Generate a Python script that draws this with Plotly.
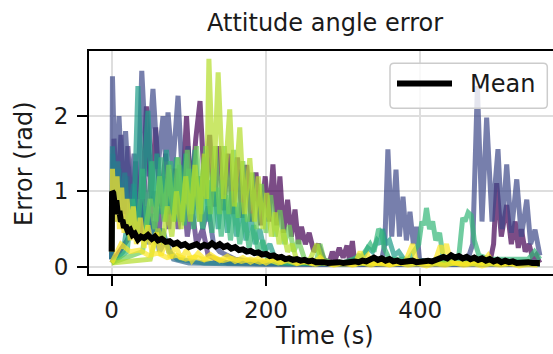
import plotly.graph_objects as go

# ---------------- data: attitude angle error per run (time s, error rad) ----------------
t_run0 = [0, 10, 20, 30, 38, 45, 51, 57, 63, 70, 76, 83, 90, 97, 103, 109, 114.5, 121, 127, 133,
          139, 145, 151, 157, 163, 169, 175, 181, 187, 193, 199, 204, 209, 214, 218, 223, 228, 233,
          237.6, 242, 246, 251, 256, 262, 268, 275, 282, 286, 290, 295, 300, 305, 308, 312, 315,
          330, 400, 470, 490, 495, 499, 505, 512, 518, 523, 527, 531, 536, 541, 546, 550, 555]
e_run0 = [0.05, 0.2, 0.35, 0.6, 0.4, 2.13, 0.9, 1.85, 0.8, 1.5, 0.7, 1.3, 0.6, 2.0, 0.9, 1.7, 2.2,
          0.9, 1.75, 0.8, 1.6, 0.75, 1.5, 0.7, 1.45, 0.65, 1.35, 0.6, 1.25, 0.55, 1.2, 0.6, 1.36,
          0.55, 1.2, 0.45, 0.89, 0.4, 0.76, 0.3, 0.53, 0.3, 0.45, 0.2, 0.3, 0.1, 0.05, 0.2, 0.1,
          0.25, 0.12, 0.28, 0.1, 0.34, 0.05, 0.03, 0.03, 0.04, 0.05, 0.3, 1.11, 0.4, 0.82, 0.3,
          0.6, 0.25, 0.5, 0.2, 0.3, 0.1, 0.15, 0.05]

t_run1 = [0, 3, 7, 12, 16, 21, 26, 31, 36, 42, 48, 55, 61, 68, 74, 80, 86, 92, 98, 104, 110, 118,
          125, 135, 150, 200, 300, 400, 555]
e_run1 = [0.1, 1.7, 0.8, 1.75, 0.7, 1.6, 0.6, 1.4, 0.5, 1.2, 0.5, 1.0, 0.4, 1.2, 0.5, 1.3, 0.5,
          1.1, 0.4, 0.8, 0.3, 0.5, 0.15, 0.1, 0.05, 0.04, 0.03, 0.04, 0.03]

t_run2 = [0, 1, 5, 9.5, 14, 18, 23, 29, 34, 39, 46, 53.5, 60, 66.5, 70, 73, 79, 86, 92, 99, 105,
          112, 118, 125, 132, 140, 160, 200, 300, 350, 354, 358, 363, 368.5, 373, 377.6, 382,
          386.6, 391, 395, 399, 410, 460, 468, 474, 480, 486, 493, 500.7, 506, 512, 518, 525,
          531, 538, 543, 548.7, 552, 555]
e_run2 = [0.1, 2.53, 0.9, 2.0, 1.0, 1.8, 0.9, 1.5, 0.9, 2.6, 1.2, 2.36, 1.3, 2.0, 1.4, 2.05, 1.3,
          2.27, 1.1, 1.6, 0.7, 1.2, 0.5, 0.8, 0.3, 0.2, 0.1, 0.05, 0.04, 0.1, 0.3, 1.56, 0.4, 1.29,
          0.4, 0.93, 0.35, 0.73, 0.3, 0.53, 0.1, 0.04, 0.05, 0.3, 2.4, 0.6, 1.98, 0.6, 1.56, 0.5,
          1.36, 0.45, 1.16, 0.4, 0.89, 0.3, 0.49, 0.25, 0.15]

t_run3 = [0, 2, 6, 10, 15, 20, 25, 30, 36, 42, 48, 55, 62, 70, 80, 100, 200, 555]
e_run3 = [0.1, 1.5, 0.6, 1.3, 0.5, 1.2, 0.4, 1.0, 0.35, 0.8, 0.3, 0.6, 0.2, 0.35, 0.1, 0.05,
          0.03, 0.03]

t_run4 = [0, 1, 4, 8, 12, 17, 22, 28, 33, 39, 45, 52, 58, 66, 74, 85, 120, 555]
e_run4 = [0.1, 1.6, 0.8, 1.4, 0.6, 1.25, 0.5, 1.1, 0.45, 0.9, 0.35, 0.7, 0.3, 0.5, 0.2, 0.1,
          0.05, 0.04]

t_run5 = [0, 15, 22, 28, 34, 40, 47, 53, 58.7, 65, 71, 77, 84, 90, 96, 102, 108, 114, 120, 126,
          132, 138, 144, 150, 156, 162, 168, 174, 180, 186, 192, 198, 205, 212, 230, 300, 313,
          320, 326, 332, 338, 344, 348, 351, 355, 360, 366, 372, 380, 555]
e_run5 = [0.05, 0.2, 0.7, 0.4, 2.4, 0.9, 2.07, 0.8, 1.5, 0.7, 1.55, 0.7, 1.45, 0.6, 1.5, 0.6,
          1.55, 0.6, 1.45, 0.6, 1.3, 0.5, 1.15, 0.45, 1.0, 0.4, 0.85, 0.35, 0.7, 0.3, 0.5, 0.2,
          0.3, 0.1, 0.05, 0.04, 0.08, 0.15, 0.12, 0.25, 0.2, 0.35, 0.3, 0.5, 0.3, 0.35, 0.15, 0.2,
          0.08, 0.06]

t_run6 = [0, 20, 27, 33, 40, 46, 52, 58, 64, 70, 76, 82, 88, 94, 100, 106, 112, 118, 124, 130,
          136, 142, 148, 154, 160, 166, 172, 178, 184, 190, 196, 202, 215, 300, 313, 325, 335,
          340, 346, 350, 353, 360, 385, 398, 402, 405, 408, 412, 416, 420, 425, 430, 440, 450,
          455, 458, 462, 466, 470, 476, 490, 540, 548, 555]
e_run6 = [0.05, 0.2, 0.9, 0.4, 1.3, 0.5, 1.4, 0.6, 1.45, 0.6, 1.4, 0.6, 1.35, 0.55, 1.3, 0.5,
          1.2, 0.5, 1.15, 0.45, 1.05, 0.4, 0.95, 0.35, 0.85, 0.3, 0.7, 0.25, 0.55, 0.2, 0.35, 0.1,
          0.05, 0.05, 0.1, 0.15, 0.3, 0.2, 0.5, 0.45, 0.25, 0.1, 0.1, 0.3, 0.6, 0.55, 0.78, 0.5,
          0.6, 0.35, 0.45, 0.1, 0.05, 0.15, 0.65, 0.6, 0.72, 0.68, 0.35, 0.15, 0.1, 0.1, 0.2, 0.1]

t_run7 = [0, 40, 50, 56, 62, 68, 74, 80, 86, 92, 98, 104, 110, 116, 122, 128, 134, 140, 146, 152,
          158, 164, 170, 176, 182, 188, 194, 200, 206, 212, 218, 224, 230, 236, 242, 250, 265,
          270, 275, 285, 555]
e_run7 = [0.05, 0.2, 0.9, 0.5, 1.2, 0.6, 1.35, 0.6, 1.45, 0.6, 1.55, 0.7, 1.6, 0.7, 1.6, 0.7,
          1.6, 0.7, 1.6, 0.7, 1.55, 0.65, 1.4, 0.6, 1.25, 0.5, 1.1, 0.45, 0.95, 0.4, 0.75, 0.3,
          0.55, 0.2, 0.35, 0.1, 0.05, 0.3, 0.1, 0.05, 0.05]

t_run8 = [0, 50, 60, 66, 72, 78, 84, 90, 96, 102, 108, 114, 120, 123, 126, 132, 138, 145, 153,
          159, 166, 172, 179, 185, 190, 196, 201, 207, 212, 217, 222, 228, 234, 240, 255, 262,
          266, 270, 275, 555]
e_run8 = [0.05, 0.1, 0.5, 0.3, 0.8, 0.4, 1.0, 0.5, 1.2, 0.6, 1.35, 0.6, 1.5, 0.9, 2.76, 1.0,
          2.58, 0.9, 2.09, 0.8, 1.85, 0.7, 1.44, 0.6, 1.2, 0.5, 0.98, 0.4, 0.72, 0.3, 0.49, 0.2,
          0.3, 0.08, 0.05, 0.2, 0.3, 0.15, 0.05, 0.04]

t_run9 = [0, 1, 4, 7, 10, 13, 16, 20, 24, 28, 32, 37, 42, 47, 52, 58, 64, 70, 76, 83, 90, 97,
          104, 112, 120, 128, 140, 150, 160, 170, 180, 190, 200, 210, 220, 230, 240, 250, 260,
          270, 276, 285, 300, 315, 322, 326, 332, 336, 345, 360, 380, 386, 390, 394, 400, 410,
          420, 426, 430, 434, 438, 444, 460, 470, 480, 488, 492, 500, 520, 540, 555]
e_run9 = [0.2, 1.3, 0.6, 1.2, 0.5, 1.05, 0.45, 0.9, 0.35, 0.8, 0.3, 0.65, 0.25, 0.55, 0.2, 0.45,
          0.15, 0.35, 0.12, 0.28, 0.1, 0.22, 0.08, 0.18, 0.1, 0.16, 0.08, 0.14, 0.07, 0.12, 0.06,
          0.11, 0.05, 0.1, 0.06, 0.12, 0.05, 0.08, 0.04, 0.12, 0.05, 0.03, 0.04, 0.03, 0.2, 0.08,
          0.15, 0.05, 0.04, 0.03, 0.05, 0.22, 0.3, 0.1, 0.05, 0.04, 0.1, 0.28, 0.18, 0.3, 0.12,
          0.05, 0.04, 0.08, 0.05, 0.15, 0.08, 0.05, 0.04, 0.06, 0.04]

t_run10 = [0, 12, 24, 36, 48, 60, 72, 84, 96, 108, 120, 132, 144, 156, 168, 180, 192, 204, 216,
           228, 240, 252, 264, 276, 288, 300, 312, 324, 336, 348, 360, 372, 384, 396, 408, 420,
           432, 444, 456, 468, 480, 492, 504, 516, 528, 540, 552]
e_run10 = [0.05, 0.3, 0.2, 0.22, 0.15, 0.18, 0.12, 0.15, 0.1, 0.13, 0.09, 0.12, 0.08, 0.11,
           0.07, 0.1, 0.06, 0.09, 0.05, 0.08, 0.04, 0.07, 0.03, 0.06, 0.02, 0.05, 0.02, 0.05,
           0.02, 0.06, 0.02, 0.05, 0.02, 0.04, 0.01, 0.04, 0.02, 0.05, 0.02, 0.04, 0.01, 0.04,
           0.02, 0.04, 0.01, 0.03, 0.02]

# mean error over all runs
t_mean = [0, 0.5, 2, 4, 6, 8, 10, 12, 14, 16, 18, 21, 24, 27, 30, 34, 38, 42, 47, 52, 56, 60,
          65, 70, 75, 80, 85, 90, 95, 100, 105, 110, 115, 120, 125, 130, 135, 140, 145, 150, 155,
          160, 165, 170, 175, 180, 185, 190, 195, 200, 205, 210, 215, 220, 225, 230, 235, 240,
          245, 250, 255, 260, 265, 270, 275, 280, 285, 290, 295, 300, 305, 310, 315, 320, 325,
          330, 335, 340, 345, 350, 355, 360, 365, 370, 375, 380, 385, 390, 395, 400, 405, 410,
          415, 420, 425, 430, 435, 440, 445, 450, 455, 460, 465, 470, 475, 480, 485, 490, 495,
          500, 505, 510, 515, 520, 525, 530, 535, 540, 545, 550, 555]
e_mean = [0.2, 1.0, 0.98, 0.82, 0.88, 0.7, 0.74, 0.6, 0.62, 0.52, 0.55, 0.47, 0.49, 0.42, 0.44,
          0.36, 0.4, 0.38, 0.42, 0.37, 0.4, 0.35, 0.37, 0.33, 0.34, 0.3, 0.32, 0.28, 0.3, 0.26,
          0.28, 0.3, 0.26, 0.29, 0.27, 0.31, 0.27, 0.3, 0.26, 0.28, 0.24, 0.26, 0.22, 0.23, 0.2,
          0.21, 0.18, 0.19, 0.16, 0.17, 0.14, 0.15, 0.12, 0.13, 0.1, 0.11, 0.09, 0.1, 0.08, 0.09,
          0.07, 0.08, 0.06, 0.07, 0.06, 0.05, 0.06, 0.05, 0.06, 0.05, 0.06, 0.05, 0.07, 0.06,
          0.08, 0.07, 0.1, 0.12, 0.09, 0.11, 0.08, 0.1, 0.07, 0.08, 0.06, 0.07, 0.06, 0.08, 0.06,
          0.07, 0.06, 0.08, 0.07, 0.09, 0.1, 0.13, 0.11, 0.15, 0.12, 0.14, 0.11, 0.13, 0.1, 0.12,
          0.09, 0.11, 0.08, 0.1, 0.07, 0.09, 0.06, 0.08, 0.06, 0.07, 0.05, 0.06, 0.05, 0.06, 0.05,
          0.06, 0.05]

run_times = [t_run0, t_run1, t_run2, t_run3, t_run4, t_run5, t_run6, t_run7, t_run8, t_run9, t_run10]
run_errors = [e_run0, e_run1, e_run2, e_run3, e_run4, e_run5, e_run6, e_run7, e_run8, e_run9, e_run10]
run_colors = ["#440154", "#482878", "#3e4989", "#31688e", "#26828e", "#1f9e89",
              "#35b779", "#6ece58", "#b5de2b", "#fde725", "#fde725"]

x_ticks = [0, 200, 400]
y_ticks = [0, 1, 2]

# ---------------- figure ----------------
FONT = "DejaVu Sans"
TXT = "#1a1a1a"

fig = go.Figure()
for tt, ee, col in zip(run_times, run_errors, run_colors):
    fig.add_trace(go.Scatter(x=tt, y=ee, mode="lines", opacity=0.7,
                             line=dict(color=col, width=5), showlegend=False,
                             hoverinfo="skip"))
fig.add_trace(go.Scatter(x=t_mean, y=e_mean, mode="lines", name="Mean",
                         line=dict(color="black", width=6), showlegend=False))

W, H = 553, 354
L, R, T, B = 89, 0, 51, 80

fig.update_layout(
    width=W, height=H,
    margin=dict(l=L, r=R, t=T, b=B, pad=0),
    paper_bgcolor="white", plot_bgcolor="white",
    font=dict(family=FONT, color=TXT, size=23),
)
fig.update_xaxes(
    range=[-29.4, 572], tickvals=x_ticks, ticktext=[str(v) for v in x_ticks],
    showgrid=True, gridcolor="#dedede", gridwidth=1.5, zeroline=False,
    showline=True, linecolor="black", linewidth=1.8, mirror=True,
    ticks="outside", ticklen=10, tickwidth=1.8, tickcolor="black",
    ticklabelstandoff=4, tickfont=dict(size=23, family=FONT, color=TXT),
)
fig.update_yaxes(
    range=[-0.097, 2.865], tickvals=y_ticks, ticktext=[str(v) for v in y_ticks],
    showgrid=True, gridcolor="#dedede", gridwidth=1.5, zeroline=False,
    showline=True, linecolor="black", linewidth=1.8, mirror=False,
    ticks="outside", ticklen=10, tickwidth=1.8, tickcolor="black",
    ticklabelstandoff=4, tickfont=dict(size=23, family=FONT, color=TXT),
)

pw, ph = W - L - R, H - T - B


def px_x(x):
    return (x - L) / pw


def px_y(y):
    return (H - B - y) / ph


def label(text, x, y, size=24, angle=0, xanchor="center"):
    fig.add_annotation(text=text, xref="paper", yref="paper",
                       x=px_x(x), y=px_y(y), xanchor=xanchor, yanchor="middle",
                       showarrow=False, textangle=angle,
                       font=dict(size=size, family=FONT, color=TXT))


# title and axis labels
label("Attitude angle error", 325, 23)
label("Time (s)", 324, 336)
label("Error (rad)", 24, 164, angle=-90)

# legend box (rounded frame), sample line and label
bx0, bx1, by0, by1, rr = 390 - L, 547.3 - L, H - B - 108.3, H - B - 63.3, 4
frame = (f"M {bx0+rr},{by0} L {bx1-rr},{by0} Q {bx1},{by0} {bx1},{by0+rr} "
         f"L {bx1},{by1-rr} Q {bx1},{by1} {bx1-rr},{by1} L {bx0+rr},{by1} "
         f"Q {bx0},{by1} {bx0},{by1-rr} L {bx0},{by0+rr} Q {bx0},{by0} {bx0+rr},{by0} Z")
fig.add_shape(type="path", path=frame, xref="paper", yref="paper",
              xsizemode="pixel", ysizemode="pixel", xanchor=0, yanchor=0,
              line=dict(color="#cccccc", width=1.5),
              fillcolor="rgba(255,255,255,0.8)", layer="above")
fig.add_shape(type="line", xref="paper", yref="paper",
              x0=px_x(397), x1=px_x(452), y0=px_y(83.5), y1=px_y(83.5),
              line=dict(color="black", width=6), layer="above")
label("Mean", 468, 83.5, xanchor="left")

fig.write_html("out.html")
